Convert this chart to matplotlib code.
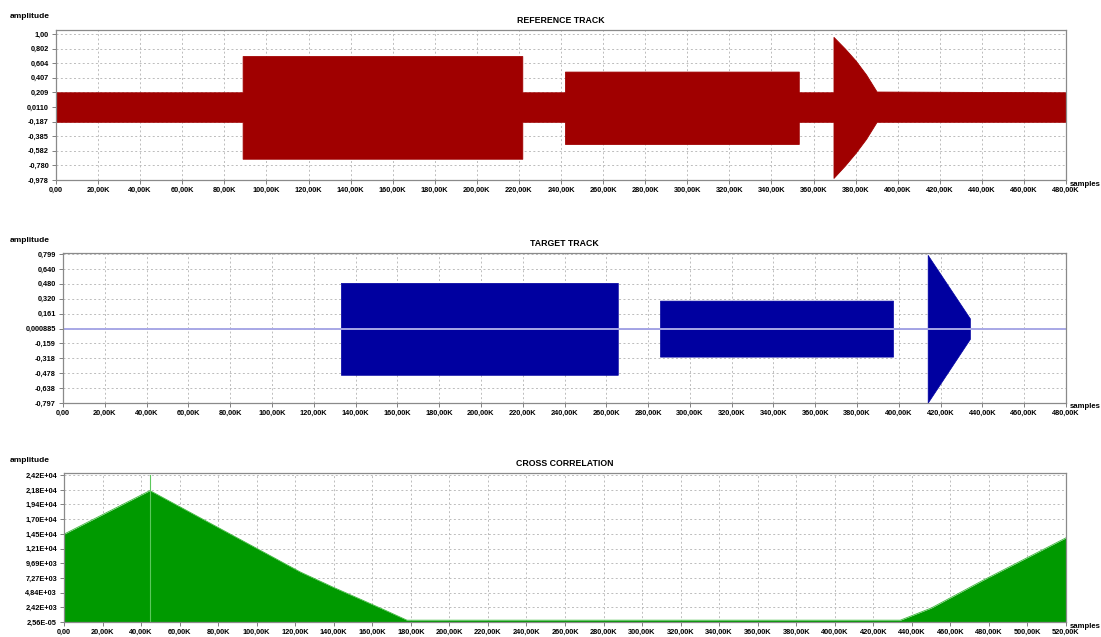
import matplotlib
matplotlib.use("Agg")
import matplotlib.pyplot as plt

plt.rcParams["font.family"] = ["Liberation Sans", "DejaVu Sans"]
plt.rcParams["font.weight"] = "bold"

# ---- reference track envelope (samples, upper, lower) ----
ref_x = [0, 88.7e3, 88.7e3, 221.6e3, 221.6e3, 241.9e3, 241.9e3, 353e3, 353e3,
         369.5e3, 369.5e3, 375e3, 380e3, 385e3, 390e3, 480e3]
ref_upper = [0.21, 0.21, 0.70, 0.70, 0.21, 0.21, 0.49, 0.49, 0.21,
             0.21, 0.96, 0.80, 0.64, 0.45, 0.22, 0.21]
ref_lower = [-0.19, -0.19, -0.69, -0.69, -0.19, -0.19, -0.49, -0.49, -0.19,
             -0.19, -0.95, -0.78, -0.61, -0.42, -0.19, -0.19]

# ---- target track envelope ----
tgt_x = [133e3, 133e3, 265.5e3, 265.5e3, 285.7e3, 285.7e3, 397.2e3, 397.2e3,
         413.8e3, 413.8e3, 434e3, 434e3]
tgt_upper = [0, 0.49, 0.49, 0, 0, 0.30, 0.30, 0, 0, 0.79, 0.11, 0]
tgt_lower = [0, -0.495, -0.495, 0, 0, -0.30, -0.30, 0, 0, -0.794, -0.11, 0]

# ---- cross correlation envelope ----
xc_x = [0, 44.6e3, 80e3, 105e3, 122.5e3, 140e3, 155e3, 167e3, 178e3,
        434e3, 450e3, 477e3, 520e3]
xc_y = [14500, 21700, 15600, 11300, 8280, 5700, 3600, 1900, 300,
        300, 2300, 6900, 13900]
xc_peak_x = 44.6e3
xc_peak_y = 24200

# ---- axis tick labels ----
ref_yticks = [-0.978, -0.780, -0.582, -0.385, -0.187, 0.0110, 0.209, 0.407, 0.604, 0.802, 1.00]
ref_ylabels = ["-0,978", "-0,780", "-0,582", "-0,385", "-0,187", "0,0110",
               "0,209", "0,407", "0,604", "0,802", "1,00"]
tgt_yticks = [-0.797, -0.638, -0.478, -0.318, -0.159, 0.000885, 0.161, 0.320, 0.480, 0.640, 0.799]
tgt_ylabels = ["-0,797", "-0,638", "-0,478", "-0,318", "-0,159", "0,000885",
               "0,161", "0,320", "0,480", "0,640", "0,799"]
xc_yticks = [2.56e-5, 2420, 4840, 7270, 9690, 12100, 14500, 17000, 19400, 21800, 24200]
xc_ylabels = ["2,56E-05", "2,42E+03", "4,84E+03", "7,27E+03", "9,69E+03", "1,21E+04",
              "1,45E+04", "1,70E+04", "1,94E+04", "2,18E+04", "2,42E+04"]
track_xticks = list(range(0, 480001, 20000))
xc_xticks = list(range(0, 520001, 20000))


def fmt_k(v):
    return "0,00" if v == 0 else f"{v // 1000},00K"


W, H = 1101, 637
fig = plt.figure(figsize=(W / 100, H / 100), dpi=100)
fig.patch.set_facecolor("white")

TICK_FS = 5.3
grid_kw = dict(color="#bcbcbc", linestyle=(0, (2, 2.5)), linewidth=0.7)


def style_axes(ax, xticks, xlim, yticks, ylabels, ylim, title, top_px, bottom_px):
    ax.set_xlim(*xlim)
    ax.set_ylim(*ylim)
    ax.set_xticks(xticks)
    ax.set_xticklabels([fmt_k(v) for v in xticks], fontsize=TICK_FS, fontweight="bold")
    ax.set_yticks(yticks)
    ax.set_yticklabels(ylabels, fontsize=TICK_FS, fontweight="bold")
    ax.tick_params(axis="both", direction="out", length=3, width=0.7,
                   color="#808080", pad=2)
    ax.grid(True, **grid_kw)
    ax.set_axisbelow(True)
    for s in ax.spines.values():
        s.set_color("#8a8a8a")
        s.set_linewidth(0.9)
    ax.set_title(title, fontsize=6.3, fontweight="bold", pad=5)
    fig.text(10 / W, 1 - (top_px - 13) / H, "amplitude", fontsize=6.0,
             fontweight="bold", ha="left", va="center")
    fig.text(1070 / W, 1 - (bottom_px + 4) / H, "samples", fontsize=5.6,
             fontweight="bold", ha="left", va="center")


def add_axes_px(left, right, top, bottom):
    return fig.add_axes([left / W, 1 - bottom / H, (right - left) / W, (bottom - top) / H])


# Reference track
ax1 = add_axes_px(56, 1066, 29.5, 180)
ax1.fill_between(ref_x, ref_lower, ref_upper, color="#a00000", linewidth=0.6,
                 edgecolor="#a00000")
style_axes(ax1, track_xticks, (0, 480000), ref_yticks, ref_ylabels,
           (-0.978, 1.06), "REFERENCE TRACK", 29.5, 180)

# Target track
ax2 = add_axes_px(63, 1066, 253, 403)
ax2.plot([0, 480000], [0, 0], color="#a8a8e6", linewidth=1.4)
ax2.fill_between(tgt_x, tgt_lower, tgt_upper, color="#0000a0", linewidth=0.5,
                 edgecolor="#0000a0")
style_axes(ax2, track_xticks, (0, 480000), tgt_yticks, tgt_ylabels,
           (-0.797, 0.81), "TARGET TRACK", 253, 403)

# Cross correlation
ax3 = add_axes_px(64, 1066, 473, 622)
ax3.fill_between(xc_x, 0, xc_y, color="#009a00", linewidth=0)
ax3.plot(xc_x, xc_y, color="#3cb83c", linewidth=0.6)
ax3.plot([xc_peak_x, xc_peak_x], [0, xc_peak_y], color="#5cc85c", linewidth=0.8)
style_axes(ax3, xc_xticks, (0, 520000), xc_yticks, xc_ylabels,
           (0, 24600), "CROSS CORRELATION", 473, 622)

fig.savefig("out.png", dpi=100, facecolor="white")
